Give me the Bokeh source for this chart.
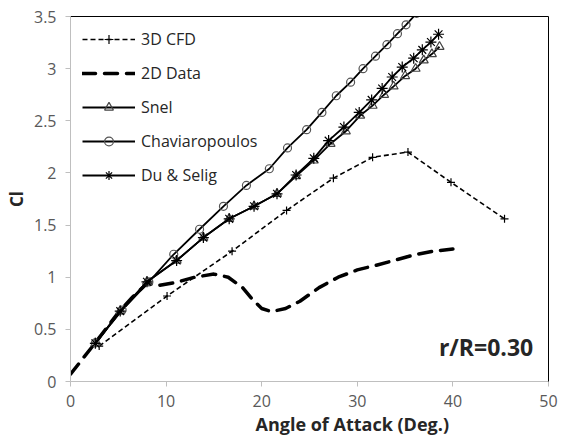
from bokeh.plotting import figure
from bokeh.models import (Range1d, FixedTicker, NumeralTickFormatter, LinearAxis,
                          Legend, LegendItem, Label, Title)
from bokeh.embed import file_html
from bokeh.resources import INLINE

# ---- data ----
cfd_x = [3.0, 10.1, 16.9, 22.6, 27.5, 31.6, 35.3, 39.8, 45.4]
cfd_y = [0.34, 0.82, 1.25, 1.64, 1.95, 2.15, 2.20, 1.91, 1.56]

d2_x = [0.0, 2.5, 5.0, 6.5, 8.0, 9.2, 11.0, 13.0, 15.0, 16.5, 18.0, 19.0, 20.0,
        21.0, 22.5, 24.0, 26.0, 28.0, 30.0, 32.0, 34.0, 36.0, 38.0, 40.0]
d2_y = [0.07, 0.36, 0.66, 0.81, 0.94, 0.92, 0.95, 1.00, 1.03, 1.00, 0.90, 0.79, 0.70,
        0.67, 0.70, 0.77, 0.90, 1.00, 1.07, 1.115, 1.165, 1.215, 1.25, 1.27]

snel_x = [2.6, 5.2, 8.0, 11.1, 13.9, 16.6, 19.2, 21.6, 23.6, 25.45, 27.2, 28.8, 30.3,
          31.6, 32.8, 33.8, 35.0, 36.1, 36.95, 37.8, 38.6]
snel_y = [0.366, 0.675, 0.956, 1.16, 1.38, 1.56, 1.68, 1.80, 1.97, 2.12, 2.28, 2.40, 2.55,
          2.645, 2.75, 2.83, 2.93, 3.00, 3.08, 3.14, 3.21]

chav_x = [2.6, 5.4, 8.2, 10.8, 13.5, 16.0, 18.4, 20.8, 22.7, 24.7, 26.3, 27.8, 29.3,
          30.6, 31.9, 33.1, 34.2, 35.1, 36.2]
chav_y = [0.37, 0.685, 0.955, 1.22, 1.46, 1.68, 1.88, 2.04, 2.24, 2.415, 2.58, 2.74, 2.87,
          3.00, 3.12, 3.23, 3.335, 3.42, 3.53]

du_x = [2.6, 5.2, 8.0, 11.1, 13.9, 16.6, 19.2, 21.6, 23.6, 25.45, 27.0, 28.6, 30.2,
        31.5, 32.6, 33.65, 34.7, 35.9, 36.8, 37.7, 38.5]
du_y = [0.366, 0.675, 0.956, 1.16, 1.38, 1.56, 1.68, 1.80, 1.98, 2.14, 2.31, 2.44, 2.58,
        2.70, 2.81, 2.92, 3.015, 3.10, 3.18, 3.255, 3.33]

x_ticks = [0, 10, 20, 30, 40, 50]
y_ticks = [0, 0.5, 1, 1.5, 2, 2.5, 3, 3.5]

x_title = "Angle of Attack (Deg.)"
y_title = "Cl"
note = "r/R=0.30"

FONT = "Open Sans"

p = figure(width=565, height=435, output_backend="svg", toolbar_location=None,
           x_range=Range1d(0, 50), y_range=Range1d(0, 3.5),
           min_border_left=70, min_border_right=17, min_border_top=16,
           min_border_bottom=54, background_fill_color="white",
           border_fill_color="white")
p.grid.visible = False
p.outline_line_color = None

# axes styling
for ax in (p.xaxis[0], p.yaxis[0]):
    ax.axis_line_color = "#bfbfbf"
    ax.major_tick_line_color = "#bfbfbf"
    ax.major_tick_out = 5
    ax.major_tick_in = 0
    ax.minor_tick_out = 0
    ax.minor_tick_in = 0
    ax.major_label_text_font = FONT
    ax.major_label_text_font_size = "16px"
    ax.major_label_text_color = "#595959"

p.xaxis[0].ticker = FixedTicker(ticks=x_ticks)
p.yaxis[0].ticker = FixedTicker(ticks=y_ticks)
p.yaxis[0].formatter = NumeralTickFormatter(format="0.[0]")
p.xaxis[0].major_label_standoff = 8
p.yaxis[0].major_label_standoff = 9

p.yaxis[0].axis_label = y_title
p.yaxis[0].axis_label_text_font = FONT
p.yaxis[0].axis_label_text_font_style = "bold"
p.yaxis[0].axis_label_text_font_size = "17px"
p.yaxis[0].axis_label_text_color = "#262626"
p.yaxis[0].axis_label_standoff = 3

# black frame lines on top and right
for loc in ("above", "right"):
    a = LinearAxis(ticker=FixedTicker(ticks=[]), axis_line_color="black",
                   major_tick_out=0, major_tick_in=0, minor_tick_out=0, minor_tick_in=0,
                   major_label_text_font_size="0px")
    p.add_layout(a, loc)

# series
r_cfd_l = p.line(cfd_x, cfd_y, line_color="black", line_width=1.6, line_dash="5 3")
r_cfd_m = p.scatter(cfd_x, cfd_y, marker="cross", size=8, line_color="black", line_width=1.2)

r_2d = p.line(d2_x, d2_y, line_color="black", line_width=3.5, line_dash="13 9",
              line_cap="round")

r_snel_l = p.line(snel_x, snel_y, line_color="black", line_width=1.8)
r_snel_m = p.scatter(snel_x, snel_y, marker="triangle", size=9, line_color="#444444",
                     fill_alpha=0, line_width=1.2)

r_chav_l = p.line(chav_x, chav_y, line_color="black", line_width=1.8)
r_chav_m = p.scatter(chav_x, chav_y, marker="circle", size=8, line_color="#555555",
                     fill_alpha=0, line_width=1.2)

r_du_l = p.line(du_x, du_y, line_color="black", line_width=1.8)
r_du_m = p.scatter(du_x, du_y, marker="asterisk", size=11, line_color="black", line_width=1.2)

legend = Legend(items=[
    LegendItem(label="3D CFD", renderers=[r_cfd_l, r_cfd_m]),
    LegendItem(label="2D Data", renderers=[r_2d]),
    LegendItem(label="Snel", renderers=[r_snel_l, r_snel_m]),
    LegendItem(label="Chaviaropoulos", renderers=[r_chav_l, r_chav_m]),
    LegendItem(label="Du & Selig", renderers=[r_du_l, r_du_m]),
], location="top_left", border_line_color=None, background_fill_alpha=0,
    label_text_font=FONT, label_text_font_size="16px", label_text_color="#262626",
    glyph_width=53, glyph_height=22, label_height=22, spacing=12, padding=0,
    margin=12, label_standoff=6)
p.add_layout(legend)

p.add_layout(Label(x=48.4, y=0.18, text=note, text_align="right",
                   text_baseline="bottom", text_font=FONT, text_font_style="bold",
                   text_font_size="23px", text_color="#262626"))

# x-axis title, offset to the right of centre as in the reference
p.add_layout(Title(text=x_title, align="left", offset=185, text_font=FONT,
                   text_font_style="bold", text_font_size="18px",
                   text_color="#262626", standoff=0), "below")

open("out.html", "w").write(file_html(p, INLINE))
